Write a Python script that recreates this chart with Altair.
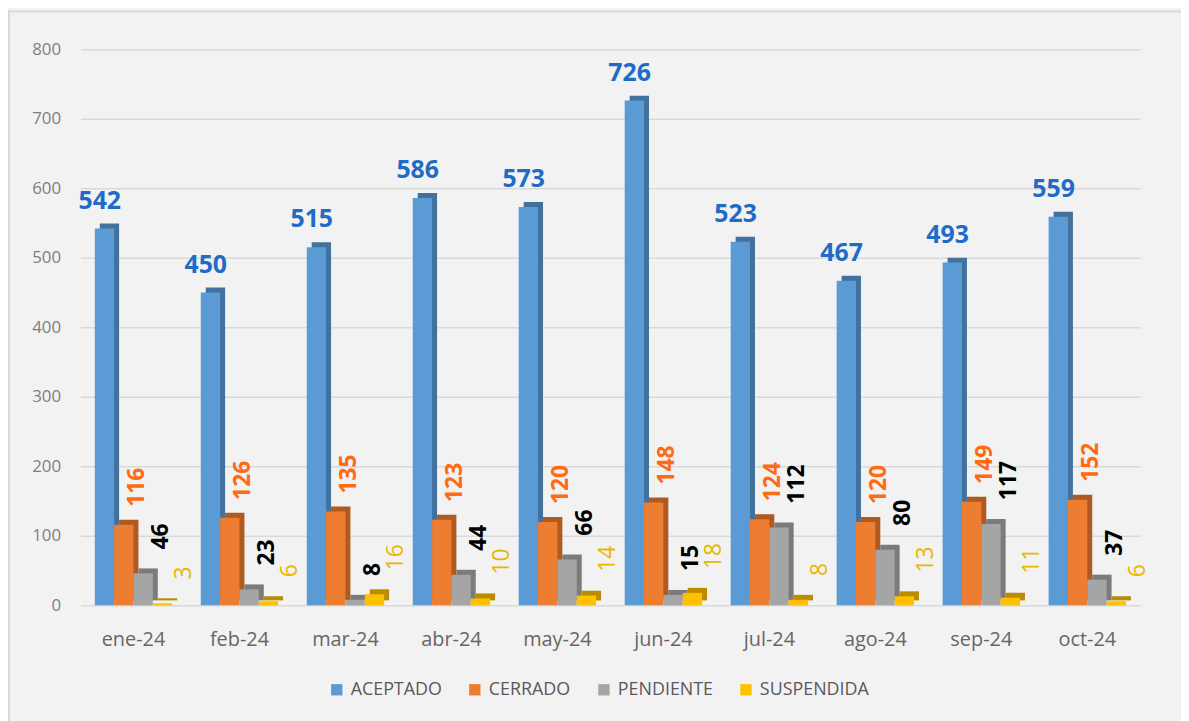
import altair as alt
import pandas as pd

months = ["ene-24", "feb-24", "mar-24", "abr-24", "may-24", "jun-24",
          "jul-24", "ago-24", "sep-24", "oct-24"]
series = ["ACEPTADO", "CERRADO", "PENDIENTE", "SUSPENDIDA"]
aceptado = [542, 450, 515, 586, 573, 726, 523, 467, 493, 559]
cerrado = [116, 126, 135, 123, 120, 148, 124, 120, 149, 152]
pendiente = [46, 23, 8, 44, 66, 15, 112, 80, 117, 37]
suspendida = [3, 6, 16, 10, 14, 18, 8, 13, 11, 6]
y_ticks = [0, 100, 200, 300, 400, 500, 600, 700, 800]

front_colors = ["#5B9BD5", "#ED7D31", "#A5A5A5", "#FFC000"]
side_colors = ["#41719C", "#AE5A21", "#7B7B7B", "#BC8C00"]

rows = []
for s, vals in zip(series, [aceptado, cerrado, pendiente, suspendida]):
    for m, v in zip(months, vals):
        rows.append({"mes": m, "serie": s, "valor": v})
df = pd.DataFrame(rows)

FONT = "Open Sans"
PLOT_W = 1067
P_IN = 0.27
STEP = PLOT_W / (len(months) - P_IN + P_IN)
BANDW = STEP * (1 - P_IN)
DEPTH = 5

x_enc = alt.X("mes:N", sort=months, title=None,
              scale=alt.Scale(paddingInner=P_IN, paddingOuter=P_IN / 2),
              axis=alt.Axis(labelFontSize=20, labelColor="#666666", labelFont=FONT,
                            labelPadding=24, ticks=False, domain=False, labelAngle=0))
y_enc = alt.Y("valor:Q", title=None,
              scale=alt.Scale(domain=[0, 800]),
              axis=alt.Axis(values=y_ticks, labelFontSize=17, labelColor="#7F7F7F",
                            labelFont=FONT, labelPadding=20, ticks=False, domain=False,
                            gridColor="#D9D9D9", gridWidth=1.5))
xoff = alt.XOffset("serie:N", sort=series,
                   scale=alt.Scale(domain=series, paddingInner=0, paddingOuter=0))
xoff_side = alt.XOffset("serie:N", sort=series,
                        scale=alt.Scale(domain=series, paddingInner=0, paddingOuter=0,
                                        range=[DEPTH, BANDW + DEPTH]))

base = alt.Chart(df)

side = base.transform_calculate(lado="datum.serie + ' lado'").mark_bar(
    yOffset=-DEPTH).encode(
    x=x_enc, y=y_enc, xOffset=xoff_side,
    fill=alt.Fill("lado:N",
                  scale=alt.Scale(domain=[s + " lado" for s in series], range=side_colors),
                  legend=None),
)

front = base.mark_bar().encode(
    x=x_enc, y=y_enc, xOffset=xoff,
    color=alt.Color("serie:N", sort=series, title=None,
                    scale=alt.Scale(domain=series, range=front_colors),
                    legend=alt.Legend(orient="none", direction="horizontal",
                                      legendX=249, legendY=636,
                                      symbolType="square", symbolSize=130,
                                      symbolStrokeWidth=0,
                                      labelFontSize=18, labelColor="#595959",
                                      labelFont=FONT, columnPadding=24,
                                      labelOffset=5)),
)

lab_acep = base.transform_filter(alt.datum.serie == "ACEPTADO").mark_text(
    fontSize=25, fontWeight="bold", color="#1F6BC6", font=FONT,
    baseline="bottom", dy=-15, dx=5,
).encode(x=x_enc, y=y_enc, xOffset=xoff, text="valor:Q")

def rot_label(name, color, weight, gap, shift):
    return base.transform_filter(alt.datum.serie == name).mark_text(
        fontSize=23, fontWeight=weight, color=color, font=FONT,
        angle=270, align="left", baseline="middle", dx=gap, dy=shift,
    ).encode(x=x_enc, y=y_enc, xOffset=xoff, text="valor:Q")

lab_cer = rot_label("CERRADO", "#FF6A13", "bold", 18, 17)
lab_pen = rot_label("PENDIENTE", "#000000", "bold", 24, 15)
lab_sus = rot_label("SUSPENDIDA", "#E8B800", "normal", 24, 12)

border_left = alt.Chart(pd.DataFrame({"k": [0]})).mark_rule(
    color="#D9D9D9", strokeWidth=2).encode(
    x=alt.value(-72), y=alt.value(-39), y2=alt.value(680))
border_top = alt.Chart(pd.DataFrame({"k": [0]})).mark_rule(
    color="#D9D9D9", strokeWidth=2).encode(
    x=alt.value(-72), x2=alt.value(1120), y=alt.value(-38))

chart = alt.layer(
    side, front, lab_acep, lab_cer, lab_pen, lab_sus, border_left, border_top
).resolve_scale(color="independent", fill="independent", xOffset="independent").properties(
    width=PLOT_W, height=560,
    autosize=alt.AutoSizeParams(type="none"),
    padding={"left": 73, "top": 39, "right": 41, "bottom": 114},
    background="#F2F2F2",
).configure_view(stroke=None)

chart.save("out.html", embed_options={"renderer": "svg", "actions": False})
